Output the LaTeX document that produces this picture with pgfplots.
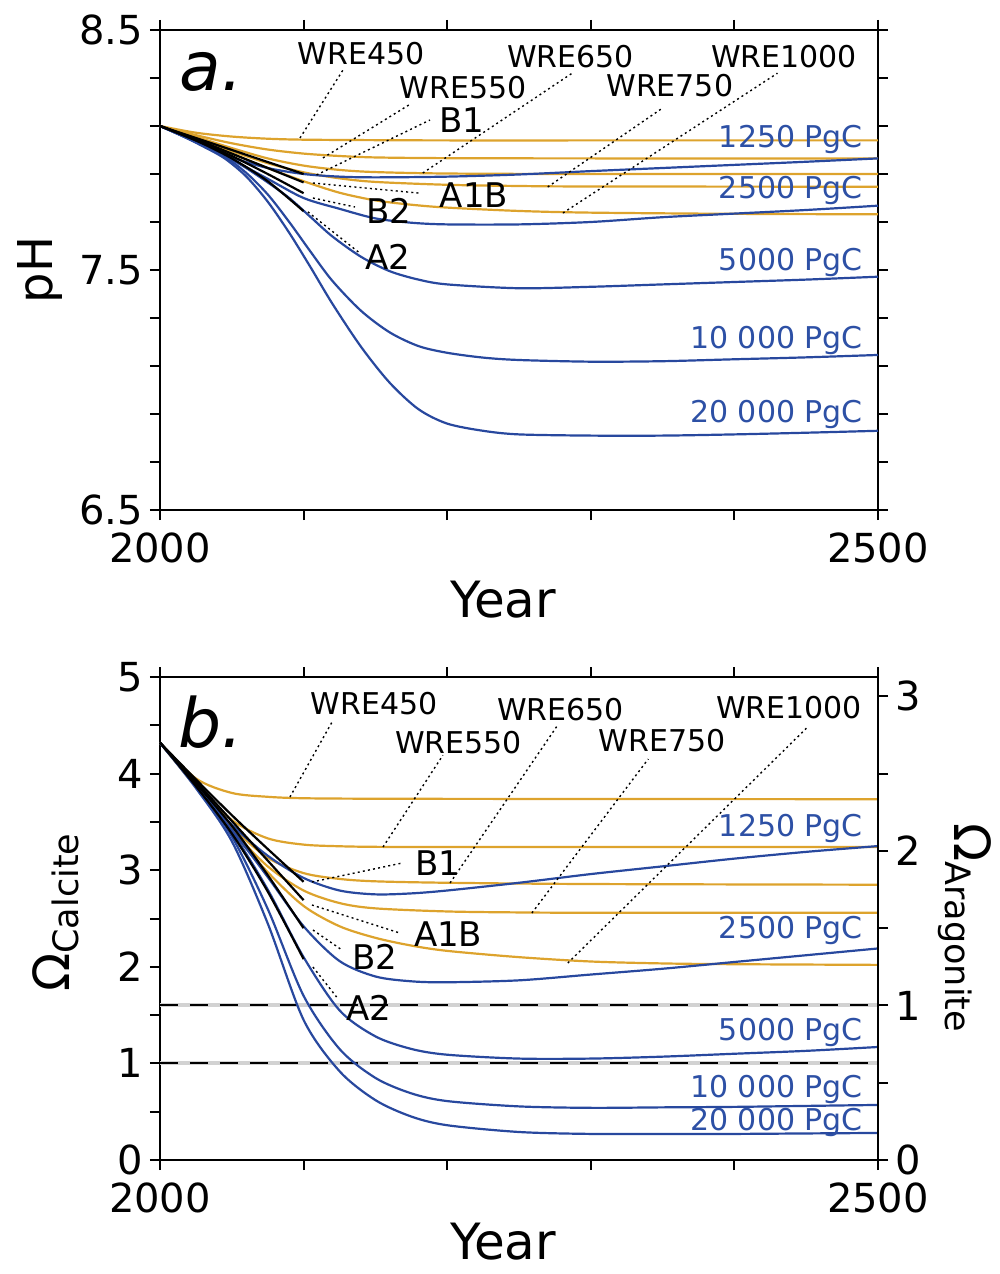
\documentclass[border=0pt]{standalone}
\usepackage{fontspec}
\setmainfont{DejaVu Sans}
\usepackage{pgfplots}
\pgfplotsset{compat=1.18}
\definecolor{wreorange}{RGB}{221,163,45}
\definecolor{pgcblue}{RGB}{40,72,158}
\definecolor{lblblue}{RGB}{45,80,165}

\pgfplotsset{
  panel/.style={
    scale only axis, width=359pt, xmin=2000, xmax=2500,
    xtick={2000,2100,...,2500}, xticklabels={2000,,,,,2500},
    xticklabel pos=lower, tick align=outside, major tick length=5pt,
    axis line style={line width=1.1pt}, every tick/.style={black,line width=1pt},
    tick label style={font=\fontsize{20}{24}\selectfont},
    xticklabel style={yshift=-3pt},
    /pgf/number format/assume math mode=true,
    clip=false,
    xlabel={Year}, xlabel style={font=\fontsize{25}{30}\selectfont, anchor=base, inner sep=0pt},
  },
  wre/.style={wreorange, line width=1.1pt, smooth, no markers},
  pulse/.style={pgcblue, line width=1.1pt, smooth, no markers},
  sres/.style={black, line width=1.1pt, smooth, no markers},
}
\tikzset{
  lead/.style={black, line width=0.7pt, dash pattern=on 1pt off 1.6pt},
  lab/.style={font=\fontsize{15}{18}\selectfont},
  big/.style={font=\fontsize{17}{20}\selectfont, anchor=west},
  pgc/.style={font=\fontsize{15}{18}\selectfont, text=lblblue, anchor=east},
}

\begin{document}
\begin{tikzpicture}
\useasboundingbox (-80pt,-382pt) rectangle (420pt,255pt);

% ---------------- panel a: pH
\begin{axis}[panel, at={(0,0)}, anchor=south west, height=240pt,
  ymin=6.5, ymax=8.5,
  ytick={6.5,6.7,6.9,7.1,7.3,7.5,7.7,7.9,8.1,8.3,8.5},
  yticklabels={6.5,,,,,7.5,,,,,8.5}, yticklabel pos=left,
  ylabel={pH}, ylabel style={font=\fontsize{24}{28}\selectfont, at={(axis description cs:-0.167,0.5)}, anchor=center},
  xlabel style={at={(axis description cs:0.478,-0.223)}}]

\addplot[wre] coordinates {(2000,8.10)(2025,8.072)(2050,8.056)(2075,8.047)(2100,8.043)(2150,8.041)(2200,8.04)(2300,8.04)(2400,8.04)(2500,8.04)};
\addplot[wre] coordinates {(2000,8.10)(2025,8.062)(2050,8.028)(2075,8.002)(2100,7.985)(2125,7.975)(2150,7.969)(2200,7.966)(2300,7.965)(2500,7.965)};
\addplot[wre] coordinates {(2000,8.10)(2025,8.055)(2050,8.008)(2075,7.965)(2100,7.935)(2125,7.917)(2150,7.908)(2200,7.902)(2300,7.90)(2500,7.90)};
\addplot[wre] coordinates {(2000,8.10)(2025,8.05)(2050,7.995)(2075,7.945)(2100,7.907)(2125,7.882)(2150,7.867)(2200,7.855)(2250,7.85)(2300,7.848)(2500,7.847)};
\addplot[wre] coordinates {(2000,8.10)(2025,8.045)(2050,7.985)(2075,7.925)(2100,7.87)(2125,7.822)(2150,7.79)(2175,7.772)(2200,7.76)(2250,7.746)(2300,7.739)(2400,7.734)(2500,7.732)};

\addplot[pulse] coordinates {(2000,8.10)(2025,8.04)(2050,7.97)(2075,7.925)(2100,7.90)(2125,7.889)(2150,7.886)(2200,7.889)(2250,7.898)(2300,7.912)(2350,7.925)(2400,7.938)(2450,7.951)(2500,7.965)};
\addplot[pulse] coordinates {(2000,8.10)(2025,8.035)(2050,7.96)(2075,7.88)(2100,7.80)(2125,7.755)(2150,7.715)(2175,7.697)(2200,7.69)(2250,7.69)(2300,7.70)(2350,7.72)(2400,7.735)(2450,7.75)(2500,7.768)};
\addplot[pulse] coordinates {(2000,8.10)(2015,8.06)(2030,8.02)(2045,7.978)(2060,7.925)(2075,7.865)(2090,7.80)(2105,7.72)(2120,7.64)(2140,7.555)(2160,7.495)(2180,7.46)(2200,7.44)(2250,7.424)(2300,7.43)(2350,7.44)(2400,7.45)(2450,7.46)(2500,7.472)};
\addplot[pulse] coordinates {(2000,8.10)(2015,8.06)(2030,8.018)(2045,7.972)(2060,7.905)(2075,7.815)(2090,7.70)(2105,7.575)(2120,7.455)(2140,7.33)(2160,7.24)(2180,7.183)(2200,7.155)(2225,7.135)(2250,7.125)(2300,7.118)(2350,7.12)(2400,7.128)(2450,7.136)(2500,7.146)};
\addplot[pulse] coordinates {(2000,8.10)(2015,8.06)(2030,8.015)(2045,7.965)(2060,7.89)(2075,7.785)(2090,7.655)(2105,7.51)(2120,7.36)(2140,7.18)(2160,7.03)(2180,6.92)(2200,6.86)(2225,6.83)(2250,6.815)(2300,6.81)(2350,6.81)(2400,6.815)(2450,6.822)(2500,6.83)};

\addplot[sres] coordinates {(2000,8.10)(2025,8.05)(2050,8.00)(2075,7.95)(2100,7.90)};
\addplot[sres] coordinates {(2000,8.10)(2025,8.045)(2050,7.985)(2075,7.925)(2100,7.865)};
\addplot[sres] coordinates {(2000,8.10)(2025,8.04)(2050,7.975)(2075,7.90)(2100,7.82)};
\addplot[sres] coordinates {(2000,8.10)(2025,8.04)(2050,7.965)(2075,7.87)(2100,7.745)};

\draw[lead] (axis cs:2097.5,8.05) -- (axis cs:2127.4,8.333);
\node[lab] at (axis cs:2140,8.40) {WRE450};
\draw[lead] (axis cs:2113.5,7.967) -- (axis cs:2174,8.19);
\node[lab] at (axis cs:2211,8.26) {WRE550};
\draw[lead] (axis cs:2109,7.896) -- (axis cs:2188,8.125);
\node[big] at (axis cs:2189.4,8.125) {B1};
\draw[lead] (axis cs:2106.5,7.8625) -- (axis cs:2181,7.82);
\node[big] at (axis cs:2190,7.81) {A1B};
\draw[lead] (axis cs:2106.5,7.80) -- (axis cs:2135.8,7.7625);
\node[big] at (axis cs:2139,7.746) {B2};
\draw[lead] (axis cs:2103,7.742) -- (axis cs:2139,7.571);
\node[big] at (axis cs:2138,7.554) {A2};
\draw[lead] (axis cs:2183,7.904) -- (axis cs:2287,8.32);
\node[lab] at (axis cs:2286,8.39) {WRE650};
\draw[lead] (axis cs:2270,7.846) -- (axis cs:2350,8.175);
\node[lab] at (axis cs:2355,8.267) {WRE750};
\draw[lead] (axis cs:2280.6,7.7375) -- (axis cs:2430,8.32);
\node[lab] at (axis cs:2434.5,8.39) {WRE1000};

\node[pgc] at (axis cs:2494.4,8.042) {1250 PgC};
\node[pgc] at (axis cs:2494.4,7.833) {2500 PgC};
\node[pgc] at (axis cs:2494.4,7.533) {5000 PgC};
\node[pgc] at (axis cs:2494.4,7.208) {10 000 PgC};
\node[pgc] at (axis cs:2494.4,6.896) {20 000 PgC};
\node[font=\fontsize{34}{40}\selectfont\itshape] at (axis cs:2035.5,8.325) {a.};
\end{axis}

% ---------------- panel b: saturation state
\begin{axis}[panel, at={(0,-325pt)}, anchor=south west, height=241.5pt,
  ymin=0, ymax=5, ytick={0,0.5,...,5}, yticklabels={0,,1,,2,,3,,4,,5}, ytick pos=left,
  ylabel={Ω\textsubscript{Calcite}}, ylabel style={font=\fontsize{25}{30}\selectfont, at={(axis description cs:-0.145,0.513)}, anchor=center},
  xlabel style={at={(axis description cs:0.478,-0.205)}}]

\addplot[gray!35, line width=2pt] coordinates {(2000,1.6)(2500,1.6)};
\addplot[black, line width=1pt, dash pattern=on 9pt off 6pt] coordinates {(2000,1.6)(2500,1.6)};
\addplot[gray!35, line width=2pt] coordinates {(2000,1)(2500,1)};
\addplot[black, line width=1pt, dash pattern=on 9pt off 6pt] coordinates {(2000,1)(2500,1)};

\addplot[wre] coordinates {(2000,4.32)(2025,3.95)(2050,3.80)(2075,3.76)(2100,3.745)(2150,3.74)(2250,3.738)(2500,3.735)};
\addplot[wre] coordinates {(2000,4.32)(2025,3.90)(2050,3.52)(2075,3.33)(2100,3.265)(2125,3.248)(2150,3.242)(2200,3.24)(2500,3.24)};
\addplot[wre] coordinates {(2000,4.32)(2025,3.88)(2050,3.45)(2075,3.13)(2100,2.97)(2125,2.91)(2150,2.885)(2200,2.87)(2300,2.857)(2500,2.85)};
\addplot[wre] coordinates {(2000,4.32)(2025,3.87)(2050,3.42)(2075,3.04)(2100,2.79)(2125,2.66)(2150,2.605)(2200,2.573)(2250,2.563)(2300,2.56)(2500,2.56)};
\addplot[wre] coordinates {(2000,4.32)(2025,3.86)(2050,3.40)(2075,2.98)(2100,2.63)(2125,2.42)(2150,2.30)(2175,2.22)(2200,2.165)(2250,2.10)(2300,2.055)(2350,2.035)(2400,2.027)(2500,2.02)};

\addplot[pulse] coordinates {(2000,4.32)(2025,3.88)(2050,3.47)(2075,3.15)(2100,2.92)(2125,2.79)(2150,2.75)(2175,2.76)(2200,2.79)(2250,2.87)(2300,2.96)(2350,3.04)(2400,3.12)(2450,3.19)(2500,3.25)};
\addplot[pulse] coordinates {(2000,4.32)(2025,3.87)(2050,3.42)(2075,2.93)(2100,2.42)(2125,2.06)(2150,1.90)(2175,1.85)(2200,1.84)(2250,1.86)(2300,1.92)(2350,1.98)(2400,2.05)(2450,2.12)(2500,2.19)};
\addplot[pulse] coordinates {(2000,4.32)(2025,3.88)(2050,3.40)(2075,2.80)(2100,2.10)(2125,1.55)(2150,1.28)(2175,1.15)(2200,1.09)(2250,1.05)(2300,1.05)(2350,1.07)(2400,1.10)(2450,1.13)(2500,1.17)};
\addplot[pulse] coordinates {(2000,4.32)(2025,3.87)(2050,3.35)(2075,2.60)(2100,1.70)(2125,1.15)(2150,0.85)(2175,0.69)(2200,0.61)(2250,0.555)(2300,0.54)(2350,0.545)(2400,0.55)(2450,0.56)(2500,0.57)};
\addplot[pulse] coordinates {(2000,4.32)(2025,3.85)(2050,3.30)(2075,2.45)(2100,1.45)(2125,0.92)(2150,0.62)(2175,0.45)(2200,0.36)(2250,0.29)(2300,0.27)(2350,0.27)(2400,0.27)(2450,0.275)(2500,0.28)};

\addplot[sres] coordinates {(2000,4.32)(2025,3.94)(2050,3.57)(2075,3.22)(2100,2.88)};
\addplot[sres] coordinates {(2000,4.32)(2025,3.92)(2050,3.51)(2075,3.10)(2100,2.69)};
\addplot[sres] coordinates {(2000,4.32)(2025,3.90)(2050,3.46)(2075,2.95)(2100,2.40)};
\addplot[sres] coordinates {(2000,4.32)(2025,3.87)(2050,3.38)(2075,2.78)(2100,2.08)};

\draw[lead] (axis cs:2090.5,3.758) -- (axis cs:2119.8,4.534);
\node[lab] at (axis cs:2149,4.72) {WRE450};
\draw[lead] (axis cs:2155.3,3.24) -- (axis cs:2197,4.19);
\node[lab] at (axis cs:2208,4.317) {WRE550};
\draw[lead] (axis cs:2202,2.868) -- (axis cs:2277,4.503);
\node[lab] at (axis cs:2279,4.658) {WRE650};
\draw[lead] (axis cs:2259,2.557) -- (axis cs:2340,4.151);
\node[lab] at (axis cs:2349.6,4.337) {WRE750};
\draw[lead] (axis cs:2284,2.039) -- (axis cs:2451,4.482);
\node[lab] at (axis cs:2438,4.679) {WRE1000};
\draw[lead] (axis cs:2105.8,2.878) -- (axis cs:2168.5,3.074);
\node[big] at (axis cs:2172.7,3.074) {B1};
\draw[lead] (axis cs:2105.8,2.64) -- (axis cs:2167,2.35);
\node[big] at (axis cs:2172,2.34) {A1B};
\draw[lead] (axis cs:2106.5,2.381) -- (axis cs:2126.7,2.174);
\node[big] at (axis cs:2128.8,2.10) {B2};
\draw[lead] (axis cs:2106.5,1.998) -- (axis cs:2123,1.687);
\node[big] at (axis cs:2125,1.573) {A2};

\node[pgc] at (axis cs:2494.4,3.437) {1250 PgC};
\node[pgc] at (axis cs:2494.4,2.371) {2500 PgC};
\node[pgc] at (axis cs:2494.4,1.315) {5000 PgC};
\node[pgc] at (axis cs:2494.4,0.725) {10 000 PgC};
\node[pgc] at (axis cs:2494.4,0.393) {20 000 PgC};
\node[font=\fontsize{34}{40}\selectfont\itshape] at (axis cs:2035.5,4.534) {b.};
\end{axis}

% right-hand aragonite scale of panel b
\begin{axis}[at={(0,-325pt)}, anchor=south west, scale only axis, width=359pt, height=241.5pt,
  xmin=2000, xmax=2500, ymin=0, ymax=3.125,
  axis x line=none, axis y line*=right, tick align=outside, major tick length=5pt,
  axis line style={line width=1.1pt}, every tick/.style={black,line width=1pt},
  ytick={0,0.5,1,1.5,2,2.5,3}, yticklabels={0,,1,,2,,3},
  tick label style={font=\fontsize{20}{24}\selectfont},
  ylabel={Ω\textsubscript{Aragonite}}, ylabel style={font=\fontsize{25}{30}\selectfont, at={(axis description cs:1.121,0.48)}, anchor=center, rotate=180}]
\end{axis}
\end{tikzpicture}
\end{document}
